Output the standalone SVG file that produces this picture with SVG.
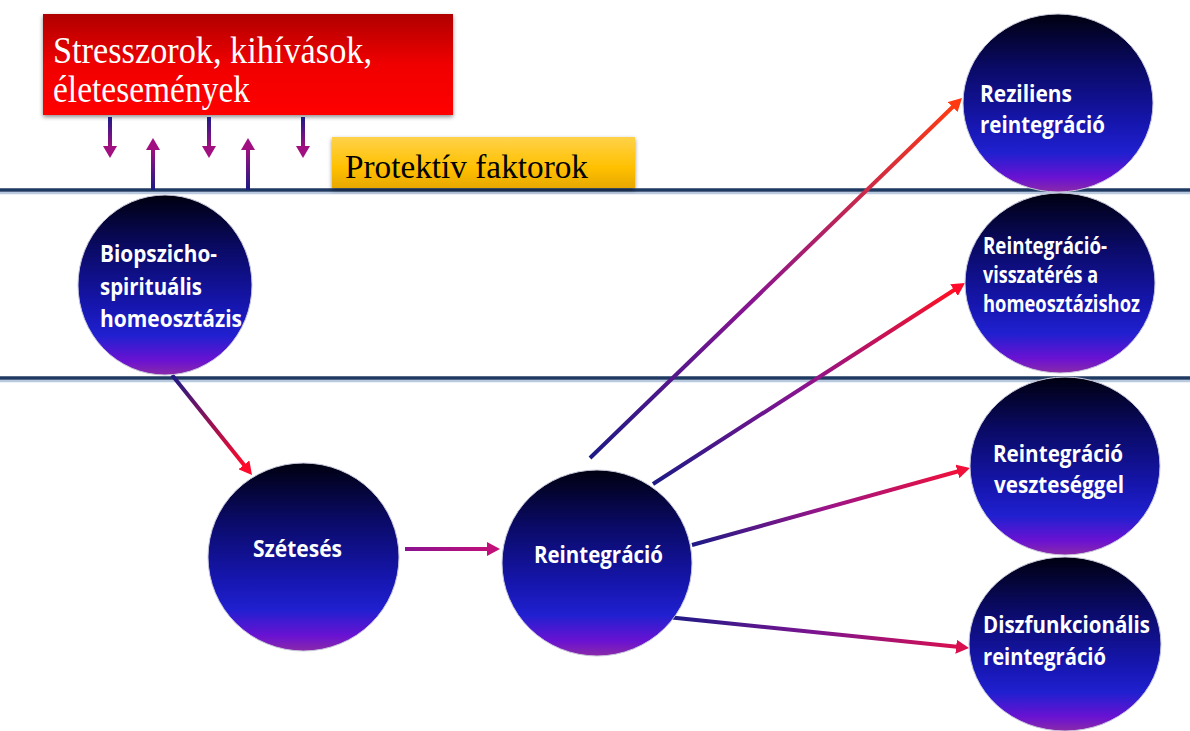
<svg xmlns="http://www.w3.org/2000/svg" width="1190" height="731" viewBox="0 0 1190 731">
<defs>
<style>
.node-text{font-family:"Open Sans","Liberation Sans",sans-serif;font-weight:bold;font-size:23px;fill:#ffffff}
.serif{font-family:"Liberation Serif","Times New Roman",serif}
.band{stroke:#1f3a62;stroke-width:3.5}
.band-shadow{stroke:#b9c9e0;stroke-width:2.5}
.conn{fill:none;stroke-width:4}
.small{fill:none;stroke-width:4}
.orb{fill:url(#orbGrad);stroke:#c8c8dc;stroke-width:1}
</style>
<linearGradient id="orbGrad" x1="0" y1="0" x2="0" y2="1">
<stop offset="0" stop-color="#000010"/>
<stop offset="0.3" stop-color="#0a0a66"/>
<stop offset="0.62" stop-color="#1616b0"/>
<stop offset="0.78" stop-color="#2020d0"/>
<stop offset="0.92" stop-color="#6a12d2"/>
<stop offset="1" stop-color="#8a2aa8"/>
</linearGradient>
<linearGradient id="redGrad" x1="0" y1="0" x2="0" y2="1">
<stop offset="0" stop-color="#b00000"/>
<stop offset="0.5" stop-color="#f00000"/>
<stop offset="1" stop-color="#ff0000"/>
</linearGradient>
<linearGradient id="goldGrad" x1="0" y1="0" x2="0" y2="1">
<stop offset="0" stop-color="#ffd24a"/>
<stop offset="0.6" stop-color="#ffc000"/>
<stop offset="1" stop-color="#e8a800"/>
</linearGradient>
<filter id="shadow" x="-10%" y="-10%" width="120%" height="130%">
<feDropShadow dx="0" dy="2" stdDeviation="2" flood-color="#000" flood-opacity="0.45"/>
</filter>
<linearGradient id="gA1" gradientUnits="userSpaceOnUse" x1="172" y1="375" x2="244.5" y2="465.6"><stop offset="0" stop-color="#1c1a86"/><stop offset="1" stop-color="#ff0a2a"/></linearGradient>
<linearGradient id="gA2" gradientUnits="userSpaceOnUse" x1="405" y1="549" x2="488" y2="549"><stop offset="0" stop-color="#8a1290"/><stop offset="1" stop-color="#c0107a"/></linearGradient>
<linearGradient id="gA3" gradientUnits="userSpaceOnUse" x1="590" y1="458" x2="953.4" y2="106.3"><stop offset="0" stop-color="#1c1a86"/><stop offset="0.45" stop-color="#8a1490"/><stop offset="1" stop-color="#ff3a10"/></linearGradient>
<linearGradient id="gA4" gradientUnits="userSpaceOnUse" x1="653" y1="484" x2="954.9" y2="289.5"><stop offset="0" stop-color="#1c1a86"/><stop offset="0.5" stop-color="#8a1490"/><stop offset="1" stop-color="#ff1020"/></linearGradient>
<linearGradient id="gA5" gradientUnits="userSpaceOnUse" x1="692" y1="545" x2="958.4" y2="471.2"><stop offset="0" stop-color="#1c1a86"/><stop offset="0.5" stop-color="#9a1488"/><stop offset="1" stop-color="#f0103a"/></linearGradient>
<linearGradient id="gA6" gradientUnits="userSpaceOnUse" x1="667" y1="617" x2="957.1" y2="646.8"><stop offset="0" stop-color="#1c1a86"/><stop offset="0.5" stop-color="#7a1490"/><stop offset="1" stop-color="#d81050"/></linearGradient>
<linearGradient id="gDown" gradientUnits="userSpaceOnUse" x1="0" y1="117" x2="0" y2="147"><stop offset="0" stop-color="#1c1a86"/><stop offset="1" stop-color="#a01080"/></linearGradient>
<linearGradient id="gUp" gradientUnits="userSpaceOnUse" x1="0" y1="190" x2="0" y2="149"><stop offset="0" stop-color="#1c1a86"/><stop offset="1" stop-color="#a01080"/></linearGradient>
<marker id="mRed" markerUnits="userSpaceOnUse" markerWidth="14" markerHeight="14" refX="1" refY="7" orient="auto"><path d="M0,0 L13,7 L0,14 z" fill="#ff0a2a"/></marker>
<marker id="mMag" markerUnits="userSpaceOnUse" markerWidth="14" markerHeight="14" refX="1" refY="7" orient="auto"><path d="M0,0 L13,7 L0,14 z" fill="#c0107a"/></marker>
<marker id="mOrange" markerUnits="userSpaceOnUse" markerWidth="14" markerHeight="14" refX="1" refY="7" orient="auto"><path d="M0,0 L13,7 L0,14 z" fill="#ff3a10"/></marker>
<marker id="mRed2" markerUnits="userSpaceOnUse" markerWidth="14" markerHeight="14" refX="1" refY="7" orient="auto"><path d="M0,0 L13,7 L0,14 z" fill="#f0103a"/></marker>
<marker id="mCrimson" markerUnits="userSpaceOnUse" markerWidth="14" markerHeight="14" refX="1" refY="7" orient="auto"><path d="M0,0 L13,7 L0,14 z" fill="#d81050"/></marker>
<marker id="mSmall" markerUnits="userSpaceOnUse" markerWidth="14" markerHeight="14" refX="1" refY="7" orient="auto"><path d="M0,0 L12,7 L0,14 z" fill="#a01080"/></marker>
</defs>
<rect width="1190" height="731" fill="#ffffff"/>

<g id="bands">
<line class="band-shadow" x1="0" y1="193" x2="1190" y2="193"/>
<line class="band" x1="0" y1="190" x2="1190" y2="190"/>
<line class="band-shadow" x1="0" y1="381" x2="1190" y2="381"/>
<line class="band" x1="0" y1="378" x2="1190" y2="378"/>
</g>

<g id="stressors">
<rect x="43" y="14" width="410" height="101" fill="url(#redGrad)" filter="url(#shadow)"/>
<text class="serif" x="53" y="63" font-size="38" fill="#ffffff" textLength="319" lengthAdjust="spacingAndGlyphs">Stresszorok,  kihívások,</text>
<text class="serif" x="53" y="102" font-size="38" fill="#ffffff" textLength="197" lengthAdjust="spacingAndGlyphs">életesemények</text>
</g>

<g id="protective">
<rect x="332" y="137" width="303" height="51" fill="url(#goldGrad)" filter="url(#shadow)"/>
<text class="serif" x="345" y="178" font-size="34" fill="#000000" textLength="243" lengthAdjust="spacingAndGlyphs">Protektív  faktorok</text>
</g>

<g id="connectors">
<line class="small" x1="110" y1="117" x2="110" y2="147" stroke="url(#gDown)" marker-end="url(#mSmall)"/>
<line class="small" x1="209" y1="117" x2="209" y2="147" stroke="url(#gDown)" marker-end="url(#mSmall)"/>
<line class="small" x1="303" y1="117" x2="303" y2="147" stroke="url(#gDown)" marker-end="url(#mSmall)"/>
<line class="small" x1="153" y1="190" x2="153" y2="149" stroke="url(#gUp)" marker-end="url(#mSmall)"/>
<line class="small" x1="248" y1="190" x2="248" y2="149" stroke="url(#gUp)" marker-end="url(#mSmall)"/>
<line class="conn" x1="172" y1="375" x2="244.5" y2="465.6" stroke="url(#gA1)" marker-end="url(#mRed)"/>
<line class="conn" x1="405" y1="549" x2="488" y2="549" stroke="url(#gA2)" marker-end="url(#mMag)"/>
<line class="conn" x1="590" y1="458" x2="953.4" y2="106.3" stroke="url(#gA3)" marker-end="url(#mOrange)"/>
<line class="conn" x1="653" y1="484" x2="954.9" y2="289.5" stroke="url(#gA4)" marker-end="url(#mRed)"/>
<line class="conn" x1="692" y1="545" x2="958.4" y2="471.2" stroke="url(#gA5)" marker-end="url(#mRed2)"/>
<line class="conn" x1="667" y1="617" x2="957.1" y2="646.8" stroke="url(#gA6)" marker-end="url(#mCrimson)"/>
</g>

<g id="node-biopszicho">
<ellipse class="orb" cx="165" cy="285" rx="87" ry="90"/>
<text class="node-text" x="100" y="262" textLength="117" lengthAdjust="spacingAndGlyphs">Biopszicho-</text>
<text class="node-text" x="100" y="295" textLength="102" lengthAdjust="spacingAndGlyphs">spirituális</text>
<text class="node-text" x="100" y="327" textLength="142" lengthAdjust="spacingAndGlyphs">homeosztázis</text>
</g>

<g id="node-szetes">
<ellipse class="orb" cx="303.5" cy="557" rx="95.5" ry="94"/>
<text class="node-text" x="253" y="557" textLength="89" lengthAdjust="spacingAndGlyphs">Szétesés</text>
</g>

<g id="node-reintegracio">
<ellipse class="orb" cx="597" cy="563" rx="95" ry="93"/>
<text class="node-text" x="534" y="563" textLength="129" lengthAdjust="spacingAndGlyphs">Reintegráció</text>
</g>

<g id="node-reziliens">
<ellipse class="orb" cx="1058" cy="103" rx="95" ry="89"/>
<text class="node-text" x="980" y="102" textLength="92" lengthAdjust="spacingAndGlyphs">Reziliens</text>
<text class="node-text" x="980" y="133" textLength="125" lengthAdjust="spacingAndGlyphs">reintegráció</text>
</g>

<g id="node-visszateres">
<ellipse class="orb" cx="1060" cy="283" rx="95" ry="90"/>
<text class="node-text" x="983" y="254" font-size="19" textLength="124" lengthAdjust="spacingAndGlyphs">Reintegráció-</text>
<text class="node-text" x="983" y="283" font-size="19" textLength="115" lengthAdjust="spacingAndGlyphs">visszatérés a</text>
<text class="node-text" x="983" y="312" font-size="19" textLength="157" lengthAdjust="spacingAndGlyphs">homeosztázishoz</text>
</g>

<g id="node-veszteseggel">
<ellipse class="orb" cx="1065" cy="466" rx="95" ry="89"/>
<text class="node-text" x="993" y="462" textLength="130" lengthAdjust="spacingAndGlyphs">Reintegráció</text>
<text class="node-text" x="994" y="493" textLength="130" lengthAdjust="spacingAndGlyphs">veszteséggel</text>
</g>

<g id="node-diszfunkcionalis">
<ellipse class="orb" cx="1065" cy="644" rx="96" ry="87"/>
<text class="node-text" x="983" y="633" textLength="167" lengthAdjust="spacingAndGlyphs">Diszfunkcionális</text>
<text class="node-text" x="983" y="665" textLength="123" lengthAdjust="spacingAndGlyphs">reintegráció</text>
</g>
</svg>
